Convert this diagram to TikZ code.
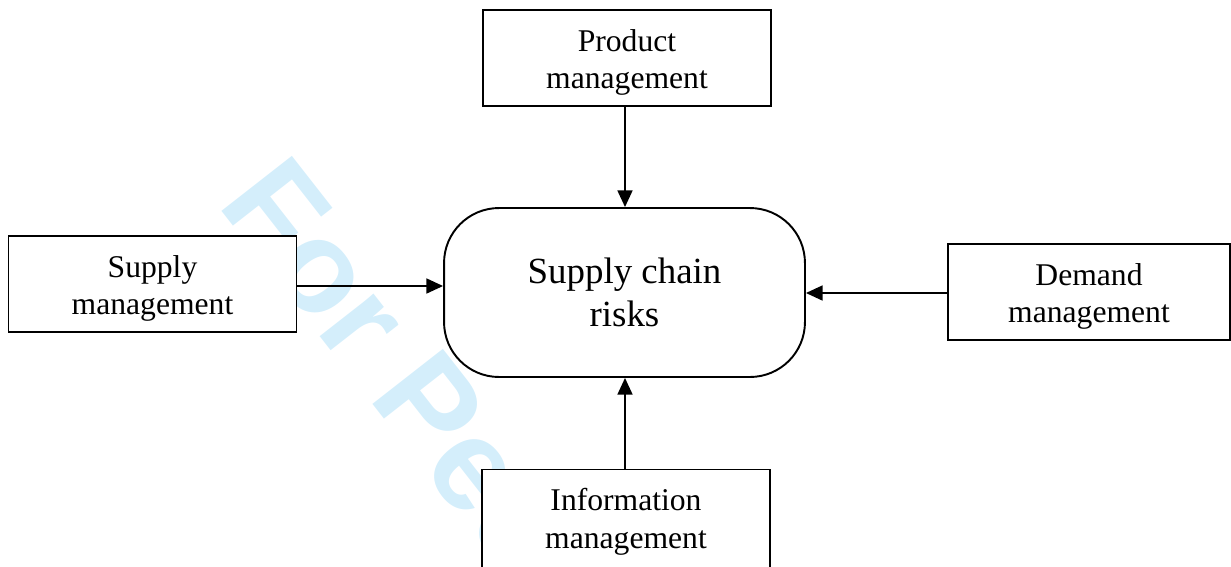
\documentclass[tikz,border=0pt]{standalone}
\usepackage{fontspec}
\setmainfont{Liberation Serif}
\newfontfamily\wmfont{Liberation Sans}
\usetikzlibrary{arrows.meta}
\definecolor{wmblue}{RGB}{212,238,251}
\newcommand{\boxstrut}{\rule{0pt}{17.5pt}}
\begin{document}
\begin{tikzpicture}[x=0.02cm,y=-0.02cm,
  box/.style={draw=black,line width=1.1pt,fill=white,minimum width=5.76cm,minimum height=1.92cm,align=center,inner sep=0pt,font=\fontsize{18}{21.5}\selectfont},
  core/.style={draw=black,line width=1.1pt,fill=white,rounded corners=1.1cm,minimum width=7.22cm,minimum height=3.38cm,align=center,inner sep=0pt,font=\fontsize{21}{24.4}\selectfont},
  link/.style={line width=1.1pt,-{Triangle[length=9.5pt,width=8.5pt]}}]
\useasboundingbox (0,0) rectangle (1231,566);
\clip (0,0) rectangle (1231,566);
\node[anchor=base west,rotate=-52,text=wmblue,font=\wmfont\bfseries\fontsize{74}{80}\selectfont,inner sep=0pt] (wm) at (216,204) {For Peer Review};
\node[box] (prod) at (627,58) {\boxstrut Product\\management};
\node[box] (supp) at (152.5,284) {\boxstrut Supply\\management};
\node[box,minimum width=5.64cm] (dem) at (1089,292) {\boxstrut Demand\\management};
\node[box,minimum height=1.98cm] (info) at (626,519) {\rule{0pt}{16pt}Information\\management};
\node[core] (risk) at (624.5,292.5) {Supply chain\\risks};
\draw[link] (prod.south -| 625,0) -- (risk.north -| 625,0);
\draw[link] (info.north -| 625,0) -- (risk.south -| 625,0);
\draw[link] (supp.east |- 0,286) -- (risk.west |- 0,286);
\draw[link] (dem.west |- 0,293) -- (risk.east |- 0,293);
\end{tikzpicture}
\end{document}
